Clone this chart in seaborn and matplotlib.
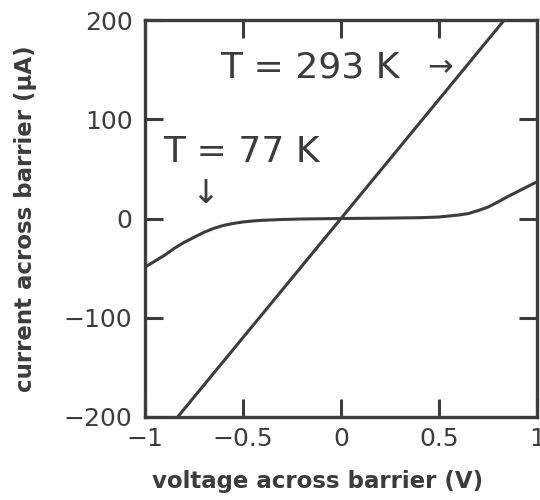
import matplotlib
matplotlib.use("Agg")
import matplotlib.pyplot as plt
import seaborn as sns
import pandas as pd

# ---- data ----
voltage_293K = [-1.0, 1.0]
current_293K = [-240.0, 240.0]

voltage_77K = [-1.0, -0.95, -0.9, -0.85, -0.8, -0.75, -0.7, -0.65, -0.6, -0.55,
               -0.5, -0.45, -0.4, -0.3, -0.2, 0.0, 0.2, 0.4, 0.5, 0.55, 0.6,
               0.65, 0.7, 0.75, 0.8, 0.85, 0.9, 0.95, 1.0]
current_77K = [-49, -43, -37, -30, -24, -19, -14, -10, -7, -5,
               -3.5, -2.5, -1.8, -1.0, -0.5, 0.0, 0.3, 0.8, 1.5, 2.5, 3.5,
               5, 8, 11.5, 16.5, 22, 27, 32, 37]

x_ticks = [-1, -0.5, 0, 0.5, 1]
x_tick_labels = ["\u22121", "\u22120.5", "0", "0.5", "1"]
y_ticks = [-200, -100, 0, 100, 200]
y_tick_labels = ["\u2212200", "\u2212100", "0", "100", "200"]

x_label = "voltage across barrier (V)"
y_label = "current across barrier (\u03bcA)"
label_293 = "T = 293 K"
label_77 = "T = 77 K"

# ---- style ----
sns.set_style("ticks")
plt.rcParams["font.family"] = ["DejaVu Sans"]
ink = "#3c3c3c"

fig = plt.figure(figsize=(5.4, 5.0), dpi=100)
ax = fig.add_axes([0.2685, 0.166, 0.7259, 0.794])

df293 = pd.DataFrame({"v": voltage_293K, "i": current_293K})
df77 = pd.DataFrame({"v": voltage_77K, "i": current_77K})
sns.lineplot(data=df293, x="v", y="i", ax=ax, color=ink, lw=2.2, sort=False)
sns.lineplot(data=df77, x="v", y="i", ax=ax, color=ink, lw=2.2, sort=False)

ax.set_xlim(-1, 1)
ax.set_ylim(-200, 200)
ax.set_xticks(x_ticks)
ax.set_xticklabels(x_tick_labels)
ax.set_yticks(y_ticks)
ax.set_yticklabels(y_tick_labels)
ax.tick_params(direction="in", length=13, width=2.2, color=ink,
               top=True, right=True, labelsize=18, labelcolor=ink)
ax.tick_params(axis="x", pad=7)
ax.tick_params(axis="y", pad=9)
for s in ax.spines.values():
    s.set_linewidth(2.4)
    s.set_color(ink)

ax.set_xlabel(x_label, fontsize=16.5, fontweight="bold", color=ink)
ax.xaxis.set_label_coords((318 - 145) / 392, -(470 - 417) / 397)
ax.set_ylabel(y_label, fontsize=16.5, fontweight="bold", color=ink)
ax.yaxis.set_label_coords(-(145 - 37) / 392, 0.5)

ax.text(-0.617, 152, label_293, fontsize=26, color=ink, ha="left", va="center")
ax.text(0.505, 152, "\u2192", fontsize=22, color=ink,
        ha="center", va="center")
ax.text(-0.908, 67.5, label_77, fontsize=26, color=ink, ha="left", va="center")
ax.text(-0.694, 25, "\u2193", fontsize=24, color=ink,
        ha="center", va="center")

fig.savefig("out.png", dpi=100)
